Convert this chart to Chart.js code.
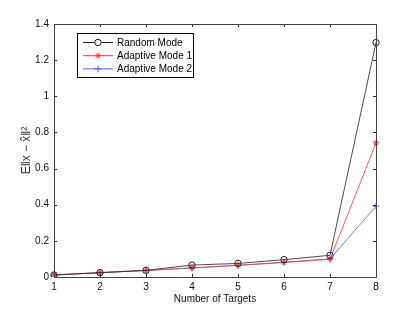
<!DOCTYPE html>
<html>
<head>
<meta charset="utf-8">
<script src="https://cdn.jsdelivr.net/npm/chart.js@4.4.0/dist/chart.umd.min.js"></script>
<style>
  html, body { margin: 0; padding: 0; background: #fff; }
  #wrap { width: 415px; height: 313px; }
</style>
</head>
<body>
<div id="wrap"><canvas id="lineChart"></canvas></div>
<script>
var targets = ["1", "2", "3", "4", "5", "6", "7", "8"];
var randomMode = [0.011, 0.024, 0.037, 0.066, 0.075, 0.096, 0.120, 1.297];
var adaptiveMode1 = [0.011, 0.024, 0.036, 0.050, 0.064, 0.080, 0.098, 0.742];
var adaptiveMode2 = [0.011, 0.024, 0.036, 0.050, 0.065, 0.082, 0.100, 0.392];
var yTicks = [0, 0.2, 0.4, 0.6, 0.8, 1, 1.2, 1.4];

var FONT = "'Liberation Sans', Arial, sans-serif";

// matlab style box, inner ticks and legend
var matlabBox = {
	id: "matlabBox",
	afterDatasetsDraw: function(chart) {
		var c = chart.ctx;
		var a = chart.chartArea;
		var xs = chart.scales.x, ys = chart.scales.y;
		c.save();
		c.strokeStyle = "#333";
		c.lineWidth = 1;
		c.beginPath();
		yTicks.forEach(function(v) {
			var py = Math.round(ys.getPixelForValue(v)) + 0.5;
			c.moveTo(a.left, py); c.lineTo(a.left + 3, py);
			c.moveTo(a.right, py); c.lineTo(a.right - 3, py);
		});
		targets.forEach(function(t, i) {
			var px = Math.round(xs.getPixelForValue(i)) + 0.5;
			c.moveTo(px, a.bottom); c.lineTo(px, a.bottom - 3);
			c.moveTo(px, a.top); c.lineTo(px, a.top + 3);
		});
		c.stroke();
		c.strokeStyle = "#444";
		c.strokeRect(Math.round(a.left) + 0.5, Math.round(a.top) + 0.5,
			Math.round(a.right - a.left), Math.round(a.bottom - a.top));

		// legend
		var bx = 77.5, by = 33.5, bw = 116, bh = 44;
		c.fillStyle = "#fff";
		c.fillRect(bx, by, bw, bh);
		c.strokeStyle = "#000";
		c.strokeRect(bx, by, bw, bh);
		c.font = "10px " + FONT;
		c.textBaseline = "middle";
		chart.data.datasets.forEach(function(ds, i) {
			var ly = 42.5 + i * 13.2;
			c.strokeStyle = ds.borderColor;
			c.lineWidth = 1;
			c.beginPath();
			c.moveTo(83, ly); c.lineTo(113, ly);
			c.stroke();
			Chart.helpers.drawPoint(c, {
				pointStyle: ds.pointStyle, radius: ds.pointRadius,
				borderWidth: 1, rotation: 0
			}, 98, ly);
			c.fillStyle = "#000";
			c.fillText(ds.label, 117, ly + 0.5);
		});
		c.restore();
	}
};

var ctx = document.getElementById("lineChart");

var data = {
	labels: targets,
	datasets: [
		{
			label: "Random Mode",
			data: randomMode,
			borderColor: "#222",
			backgroundColor: "rgba(0,0,0,0)",
			borderWidth: 0.8,
			pointStyle: "circle",
			pointRadius: 3.2,
			pointBorderWidth: 1,
			pointBorderColor: "#222",
			pointBackgroundColor: "rgba(0,0,0,0)",
			fill: false,
			lineTension: 0
		},
		{
			label: "Adaptive Mode 1",
			data: adaptiveMode1,
			borderColor: "#ff3333",
			backgroundColor: "#ff3333",
			borderWidth: 0.8,
			pointStyle: "star",
			pointRadius: 3,
			pointBorderWidth: 1,
			pointBorderColor: "#ff3333",
			fill: false,
			lineTension: 0
		},
		{
			label: "Adaptive Mode 2",
			data: adaptiveMode2,
			borderColor: "#4466ff",
			backgroundColor: "#4466ff",
			borderWidth: 0.8,
			pointStyle: "cross",
			pointRadius: 3.5,
			pointBorderWidth: 1,
			pointBorderColor: "#4466ff",
			fill: false,
			lineTension: 0
		}
	]
};

var options = {
	responsive: false,
	animation: false,
	layout: { padding: { top: 24, right: 39, left: 19, bottom: 8 } },
	plugins: {
		legend: { display: false },
		tooltip: { enabled: false }
	},
	scales: {
		x: {
			offset: false,
			grid: { display: false, drawTicks: false },
			border: { display: false },
			ticks: { color: "#111", font: { family: FONT, size: 10 }, padding: 4, maxRotation: 0 },
			title: { display: true, text: "Number of Targets", color: "#111",
				font: { family: FONT, size: 10 }, padding: 0 },
			afterFit: function(s) { s.height = 28; }
		},
		y: {
			min: 0, max: 1.4,
			grid: { display: false, drawTicks: false },
			border: { display: false },
			afterBuildTicks: function(s) { s.ticks = yTicks.map(function(v) { return { value: v }; }); },
			ticks: { color: "#111", font: { family: FONT, size: 10 }, padding: 5,
				callback: function(v) { return String(Math.round(v * 10) / 10); } },
			title: { display: true, text: "E\u2016x \u2212 x\u0302\u2016\u00b2", color: "#333",
				font: { family: FONT, size: 12 }, padding: 0 },
			afterFit: function(s) { s.width = 35; }
		}
	}
};

ctx.width = 415;
ctx.height = 313;
var chart = new Chart(ctx, {
	type: "line",
	data: data,
	options: options,
	plugins: [matlabBox]
});
</script>
</body>
</html>
